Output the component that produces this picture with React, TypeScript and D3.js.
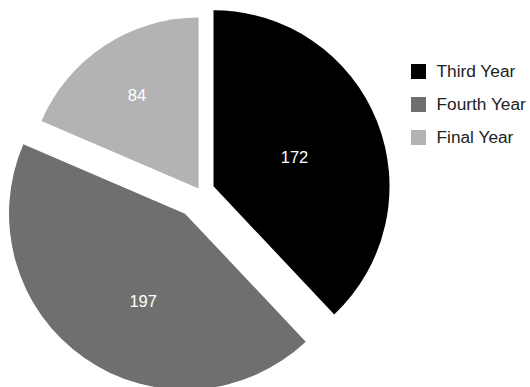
import React from "react";
import * as d3 from "d3";

const categories = ["Third Year", "Fourth Year", "Final Year"];
const values = [172, 197, 84];

const colors = ["#000000", "#6f6f6f", "#b3b3b3"];
const offsets = [14, 27, 3.5];
const radii = [176, 176, 171];
const labelDist = [86, 97, 112];
const labelAngleAdj = [2, -9.4, 0];

const W = 530;
const H = 387;
const cx = 200.5;
const cy = 191.5;

export default function App() {
  const pie = d3
    .pie<number>()
    .sort(null)
    .value((d) => d)
    .startAngle(0)
    .endAngle(2 * Math.PI);
  const arcs = pie(values);

  const legendX = 411;
  const legendY0 = 64;
  const legendStep = 33;

  return (
    <svg
      width={W}
      height={H}
      style={{ position: "absolute", left: 0, top: 0, background: "#fff" }}
      fontFamily="Arial, 'Liberation Sans', sans-serif"
    >
      {arcs.map((a, i) => {
        const mid = (a.startAngle + a.endAngle) / 2;
        const ox = cx + Math.sin(mid) * offsets[i];
        const oy = cy - Math.cos(mid) * offsets[i];
        const path = d3.arc<d3.PieArcDatum<number>>().innerRadius(0).outerRadius(radii[i])(a) || "";
        const la = mid + (labelAngleAdj[i] * Math.PI) / 180;
        const lx = Math.sin(la) * labelDist[i];
        const ly = -Math.cos(la) * labelDist[i];
        return (
          <g key={i} transform={`translate(${ox},${oy})`}>
            <path d={path} fill={colors[i]} />
            <text
              x={lx}
              y={ly}
              dy="0.36em"
              textAnchor="middle"
              fill="#ffffff"
              fontSize={16.5}
            >
              {values[i]}
            </text>
          </g>
        );
      })}
      {categories.map((c, i) => (
        <g key={c} transform={`translate(${legendX},${legendY0 + i * legendStep})`}>
          <rect x={0} y={0} width={15} height={15} fill={colors[i]} />
          <text x={25.5} y={13.3} fontSize={17.3} fill="#222222">
            {c}
          </text>
        </g>
      ))}
    </svg>
  );
}
